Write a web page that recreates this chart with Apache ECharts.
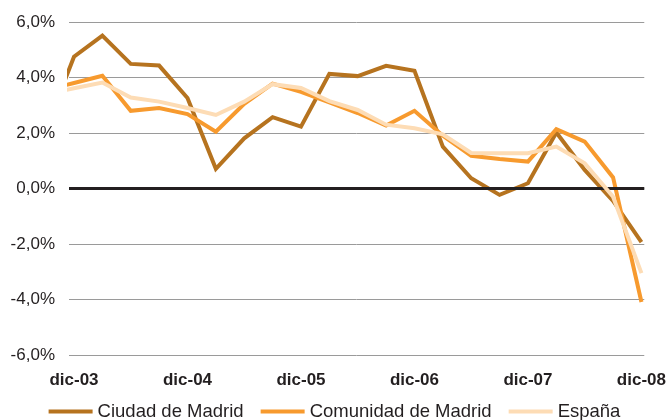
<!DOCTYPE html>
<html>
<head>
<meta charset="utf-8">
<script src="https://cdn.jsdelivr.net/npm/echarts@6/dist/echarts.min.js"></script>
<style>
html,body{margin:0;padding:0;background:#fff;}
#chart{width:669px;height:420px;}
</style>
</head>
<body>
<div id="chart"></div>
<script>
// Quarterly categories (first one lies just before the plot area and is clipped)
const quarters = ['sep-03',
  'dic-03','mar-04','jun-04','sep-04','dic-04','mar-05','jun-05','sep-05',
  'dic-05','mar-06','jun-06','sep-06','dic-06','mar-07','jun-07','sep-07',
  'dic-07','mar-08','jun-08','sep-08','dic-08'];

const ciudadMadrid = [2.1,
  4.75, 5.51, 4.49, 4.43, 3.26, 0.71, 1.81, 2.57,
  2.23, 4.13, 4.05, 4.42, 4.24, 1.51, 0.37, -0.23,
  0.19, 2.02, 0.67, -0.45, -1.93];

const comunidadMadrid = [3.55,
  3.80, 4.06, 2.80, 2.90, 2.68, 2.05, 3.05, 3.78,
  3.48, 3.10, 2.72, 2.27, 2.80, 1.90, 1.18, 1.06,
  0.97, 2.14, 1.69, 0.40, -4.09];

const espana = [3.4,
  3.61, 3.82, 3.28, 3.13, 2.90, 2.65, 3.13, 3.76,
  3.62, 3.15, 2.83, 2.30, 2.17, 1.95, 1.28, 1.27,
  1.27, 1.51, 0.91, -0.30, -3.05];

const seriesNames = ['Ciudad de Madrid', 'Comunidad de Madrid', 'España'];
const tickLabels = ['dic-03','dic-04','dic-05','dic-06','dic-07','dic-08'];

function toPairs(arr){ return arr.map((v,i)=>[i-1, v]); }
const labelPositions = tickLabels.map(l => quarters.indexOf(l) - 1);

const chart = echarts.init(document.getElementById('chart'), null, {renderer:'canvas'});
const txt = '#231f20';
const font = 'Liberation Sans, Arial, sans-serif';
const colors = ['#b6731f', '#f79a2e', '#fddcb5'];

const lineSeries = [ciudadMadrid, comunidadMadrid, espana].map((arr, idx) => ({
  name: seriesNames[idx],
  type: 'line',
  data: toPairs(arr),
  symbol: 'none',
  clip: true,
  z: 3 + idx,
  lineStyle: {color: colors[idx], width: 4, join: 'miter'},
  itemStyle: {color: colors[idx]},
  animation: false
}));

chart.setOption({
  animation: false,
  grid: {left: 69, right: 24, top: 22, bottom: 65, containLabel: false},
  legend: {
    data: seriesNames,
    top: 397,
    left: 'center',
    icon: 'rect',
    itemWidth: 44,
    itemHeight: 4,
    itemGap: 17,
    textStyle: {fontFamily: font, fontSize: 18.5, color: txt}
  },
  xAxis: {
    type: 'value',
    min: -0.176,
    max: 20.1,
    splitLine: {show: false},
    axisLine: {show: false},
    axisTick: {show: false},
    axisLabel: {
      customValues: labelPositions,
      margin: 17,
      fontFamily: font,
      fontSize: 17,
      fontWeight: 'bold',
      color: txt,
      formatter: v => quarters[Math.round(v) + 1]
    }
  },
  yAxis: {
    type: 'value',
    min: -6,
    max: 6,
    interval: 2,
    axisLine: {show: false},
    axisTick: {show: false},
    splitLine: {lineStyle: {color: '#9a9a9a', width: 1}},
    axisLabel: {
      margin: 14,
      fontFamily: font,
      fontSize: 17,
      color: txt,
      formatter: v => v.toFixed(1).replace('.', ',') + '%'
    }
  },
  series: [{
    name: 'zero',
    type: 'line',
    data: [],
    z: 1,
    markLine: {
      silent: true,
      symbol: 'none',
      label: {show: false},
      lineStyle: {color: '#231f20', width: 3, type: 'solid'},
      data: [{yAxis: 0}],
      animation: false
    }
  }].concat(lineSeries)
});
</script>
</body>
</html>
